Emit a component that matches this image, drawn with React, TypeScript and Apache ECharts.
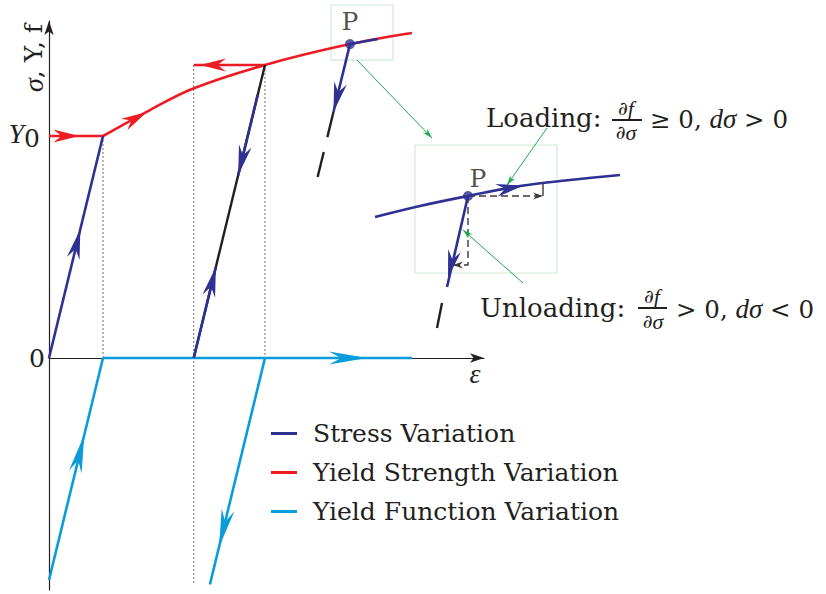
import { useEffect, useRef } from 'react';
import * as echarts from 'echarts';

const NAVY = '#2E3192';
const RED = '#ED1C24';
const CYAN = '#0A9BDB';
const INK = '#231F20';
const GREEN = '#1BA84F';
const PALE_GREEN = '#CFEAD6';
const GUIDE = '#6D6E71';
const FONT = 'DejaVu Serif';
const MATH = 'Liberation Serif';

// ---- main diagram: strain (x) vs stress / yield strength / yield function (y), Y0 = 1 ----
const stressLoading = [[0, 0], [1, 1]];
const stressUnloadTop = [[3.865, 1.185], [3.504, 0.824]];
const stressReloadLow = [[2.68, 0], [3.09, 0.41]];
const stressAtP = [[5.574, 1.414], [5.268, 1.108]];
const stressPastP = [[5.574, 1.414], [6.09, 1.437]];
const elasticUnload = [[4, 1.32], [2.68, 0]];
const trailA = [[5.268, 1.108], [5.155, 0.995]];
const trailB = [[5.088, 0.928], [4.975, 0.815]];
const pointP = [[5.574, 1.414]];

const yieldInitial = [[0, 1], [1, 1]];
const hardeningCurve = [[1, 1], [1.87, 1.117], [2.648, 1.212], [4, 1.32], [5.574, 1.414], [6.722, 1.464]];
const yieldHeld = [[4, 1.32], [2.68, 1.32]];

const yieldFnElastic = [[0, -1], [1, 0]];
const yieldFnPlastic = [[1, 0], [6.722, 0]];
const yieldFnUnload = [[4, 0], [2.98, -1.02]];

const guideA = [[1, 1], [1, 0]];
const guideB = [[2.68, 1.32], [2.68, -1.02]];
const guideC = [[4, 1.32], [4, 0]];

const boxP = [[5.222, 1.59], [6.37, 1.59], [6.37, 1.342], [5.222, 1.342], [5.222, 1.59]];
const pointerToInset = [[5.704, 1.342], [7.093, 0.991]];

// arrowheads: [tipX, tipY, tailX, tailY]
const redArrows = [[0.56, 1, 0.1, 1], [1.815, 1.108, 1.3, 1.04], [2.796, 1.32, 3.6, 1.32]];
const navyArrows = [[0.58, 0.58, 0.3, 0.3], [3.504, 0.824, 3.8, 1.12], [3.09, 0.41, 2.8, 0.12], [5.268, 1.108, 5.5, 1.34]];
const cyanArrows = [[5.89, 0, 4.5, 0], [0.653, -0.347, 0.3, -0.7], [3.149, -0.851, 3.7, -0.3]];
const pointerArrowMain = [[7.093, 0.991, 5.704, 1.342]];

const yTickValues = [0, 1];
const yTickLabels = ['0', '{it|Y}{sub|0}'];

// ---- magnified neighbourhood of P (P at origin) ----
const insetCurve = [[-9.3, -2.1], [-4.8, -1.0], [0, 0], [5.2, 1.0], [10.2, 1.6], [15.2, 2.1]];
const insetUnload = [[0, 0], [-2.1, -9.1]];
const insetTrail = [[-2.6, -10.7], [-3.1, -13.2]];
const insetDPlus = [[0, 0], [7.5, 0]];
const insetDPlusTick = [[7.5, 0], [7.5, 1.3]];
const insetDMinus = [[0, 0], [0, -6.9], [-1.5, -6.9]];
const insetBox = [[-5.3, 5.1], [8.9, 5.1], [8.9, -7.7], [-5.3, -7.7], [-5.3, 5.1]];
const loadingPointer = [[7.9, 6.8], [3.9, 1.1]];
const unloadingPointer = [[5.5, -8.7], [-0.5, -3.4]];
const insetP = [[0, 0]];

const insetNavyArrows = [[5.6, 1.05, 2.5, 0.5], [-2.0, -8.2, -1.0, -4.0]];
const insetInkArrows = [[7.5, 0, 6, 0], [-1.5, -6.9, 0, -6.9]];
const insetGreenArrows = [[3.9, 1.1, 7.9, 6.8], [-0.5, -3.4, 5.5, -8.7]];

const legendNames = ['Stress Variation', 'Yield Strength Variation', 'Yield Function Variation'];

function line(name: string, data: number[][], color: string, width: number, opts: any = {}) {
  const g = opts.grid ?? 0;
  return {
    type: 'line',
    name,
    data,
    symbol: 'none',
    silent: true,
    clip: false,
    color,
    itemStyle: { color },
    lineStyle: { color, width, type: opts.dash ?? 'solid' },
    smooth: opts.smooth ?? false,
    xAxisIndex: g,
    yAxisIndex: g,
    z: opts.z ?? 3,
    emphasis: { disabled: true },
  };
}

function arrows(data: number[][], color: string, length: number, halfWidth: number, grid = 0) {
  return {
    type: 'custom',
    data,
    silent: true,
    clip: false,
    xAxisIndex: grid,
    yAxisIndex: grid,
    z: 6,
    encode: { x: [0, 2], y: [1, 3] },
    renderItem: (_params: any, api: any) => {
      const tip = api.coord([api.value(0), api.value(1)]);
      const tail = api.coord([api.value(2), api.value(3)]);
      const a = Math.atan2(tip[1] - tail[1], tip[0] - tail[0]);
      const c = Math.cos(a);
      const s = Math.sin(a);
      const pt = (u: number, v: number) => [tip[0] + u * c - v * s, tip[1] + u * s + v * c];
      return {
        type: 'polygon',
        shape: { points: [pt(0, 0), pt(-length, halfWidth), pt(-length * 0.68, 0), pt(-length, -halfWidth)] },
        style: { fill: color },
      };
    },
  };
}

const textBase = { fontFamily: FONT, fontSize: 25, fill: INK };
const italic = (size: number) => ({ fontFamily: MATH, fontSize: size, fontStyle: 'italic', fill: INK });

function fracPart(x: number, y: number, text: string) {
  return {
    type: 'text', x, y,
    style: { ...textBase, fontSize: 19, lineHeight: 16, text, align: 'center', verticalAlign: 'middle', rich: { i: { ...italic(22), lineHeight: 16 } } },
  };
}

export default function App() {
  const ref = useRef<HTMLDivElement>(null);

  useEffect(() => {
    if (!ref.current) return;
    const chart = echarts.init(ref.current, null, { renderer: 'svg' });

    const axisLine = { lineStyle: { color: INK, width: 1.2 } };

    chart.setOption({
      animation: false,
      backgroundColor: '#ffffff',
      grid: [
        { left: 49, top: 21, width: 435, height: 569 },
        { left: 360, top: 100, width: 300, height: 240 },
      ],
      xAxis: [
        {
          type: 'value', gridIndex: 0, min: 0, max: 8.056,
          axisLine: { show: true, onZero: true, symbol: ['none', 'arrow'], symbolSize: [7, 14], ...axisLine },
          axisTick: { show: false }, axisLabel: { show: false }, splitLine: { show: false },
        },
        { type: 'value', gridIndex: 1, min: -10.8, max: 19.2, show: false },
      ],
      yAxis: [
        {
          type: 'value', gridIndex: 0, min: -1.045, max: 1.518,
          axisLine: { show: true, onZero: true, symbol: ['none', 'arrow'], symbolSize: [7, 14], ...axisLine },
          axisTick: { show: false },
          splitLine: { show: false },
          axisLabel: {
            show: true,
            customValues: yTickValues,
            margin: 4,
            fontFamily: FONT,
            fontSize: 25,
            color: INK,
            formatter: (v: number) => yTickLabels[yTickValues.indexOf(v)] ?? '',
            rich: {
              it: { fontFamily: MATH, fontSize: 28, fontStyle: 'italic', color: INK, padding: [0, 0, 5, 0] },
              sub: { fontFamily: FONT, fontSize: 25, color: INK, padding: [5, 5, 0, 0] },
            },
          },
        },
        { type: 'value', gridIndex: 1, min: -14.4, max: 9.6, show: false },
      ],
      legend: {
        data: legendNames,
        orient: 'vertical',
        left: 266,
        top: 416,
        itemWidth: 26,
        itemHeight: 3,
        itemGap: 14,
        icon: 'rect',
        selectedMode: false,
        textStyle: { fontFamily: FONT, fontSize: 25, color: INK, lineHeight: 25, padding: [0, 0, 0, 11] },
      },
      series: [
        // guides
        line('guide', guideA, GUIDE, 1, { dash: [2, 2], z: 1 }),
        line('guide', guideB, GUIDE, 1, { dash: [2, 2], z: 1 }),
        line('guide', guideC, GUIDE, 1, { dash: [2, 2], z: 1 }),
        // yield strength
        line('Yield Strength Variation', yieldInitial, RED, 2.6),
        line('Yield Strength Variation', hardeningCurve, RED, 2.6, { smooth: 0.35 }),
        line('Yield Strength Variation', yieldHeld, RED, 2.6),
        // elastic line (black) and stress path
        line('elastic', elasticUnload, INK, 2.4, { z: 3 }),
        line('elastic', trailA, INK, 2.4),
        line('elastic', trailB, INK, 2.4),
        line('Stress Variation', stressLoading, NAVY, 2.6, { z: 4 }),
        line('Stress Variation', stressUnloadTop, NAVY, 2.6, { z: 4 }),
        line('Stress Variation', stressReloadLow, NAVY, 2.6, { z: 4 }),
        line('Stress Variation', stressAtP, NAVY, 2.6, { z: 4 }),
        line('Stress Variation', stressPastP, NAVY, 2.6, { z: 4 }),
        // yield function
        line('Yield Function Variation', yieldFnElastic, CYAN, 2.6),
        line('Yield Function Variation', yieldFnPlastic, CYAN, 2.6),
        line('Yield Function Variation', yieldFnUnload, CYAN, 2.6),
        // callout
        line('callout', boxP, PALE_GREEN, 1.2, { z: 1 }),
        line('callout', pointerToInset, GREEN, 1, { z: 2 }),
        arrows(redArrows, RED, 26, 6.5),
        arrows(navyArrows, NAVY, 30, 6.5),
        arrows(cyanArrows, CYAN, 38, 6.5),
        arrows(pointerArrowMain, GREEN, 10, 3),
        {
          type: 'scatter', data: pointP, symbolSize: 10, itemStyle: { color: NAVY }, z: 7, silent: true,
          label: { show: true, formatter: 'P', position: 'top', distance: 5, fontFamily: FONT, fontSize: 25, color: INK },
        },
        // magnified neighbourhood of P
        line('callout', insetBox, PALE_GREEN, 1.2, { grid: 1, z: 1 }),
        line('inset', insetCurve, NAVY, 2.6, { grid: 1, smooth: 0.35 }),
        line('inset', insetUnload, NAVY, 2.6, { grid: 1 }),
        line('inset', insetTrail, INK, 2.4, { grid: 1 }),
        line('inset', insetDPlus, '#3A3A3A', 1.4, { grid: 1, dash: [7, 4] }),
        line('inset', insetDPlusTick, '#3A3A3A', 1.4, { grid: 1 }),
        line('inset', insetDMinus, '#3A3A3A', 1.4, { grid: 1, dash: [7, 4] }),
        line('callout', loadingPointer, GREEN, 1, { grid: 1 }),
        line('callout', unloadingPointer, GREEN, 1, { grid: 1 }),
        arrows(insetNavyArrows, NAVY, 28, 6.5, 1),
        arrows(insetInkArrows, '#3A3A3A', 10, 3.5, 1),
        arrows(insetGreenArrows, GREEN, 10, 3, 1),
        {
          type: 'scatter', data: insetP, xAxisIndex: 1, yAxisIndex: 1, symbolSize: 10, itemStyle: { color: NAVY }, z: 7, silent: true,
          label: { show: true, formatter: 'P', position: 'top', distance: 2, offset: [10, 2], fontFamily: FONT, fontSize: 25, color: INK },
        },
      ],
      graphic: [
        {
          type: 'text', x: 33, y: 58, rotation: Math.PI / 2,
          style: { ...textBase, text: '{i|σ}, Y, f', align: 'center', verticalAlign: 'middle', rich: { i: italic(28) } },
        },
        { type: 'text', x: 475, y: 373, style: { ...italic(28), text: 'ε', align: 'center', verticalAlign: 'middle' } },
        // loading condition
        { type: 'text', x: 486, y: 118, style: { ...textBase, fontSize: 26, text: 'Loading:', verticalAlign: 'middle' } },
        fracPart(626, 108, '∂{i|f}'),
        { type: 'line', shape: { x1: 612, y1: 120, x2: 642, y2: 120 }, style: { stroke: INK, lineWidth: 2 } },
        fracPart(626, 132, '∂{i|σ}'),
        { type: 'text', x: 650, y: 119, style: { ...textBase, fontSize: 24.5, text: '≥ 0, {i|dσ} > 0', verticalAlign: 'middle', rich: { i: italic(27) } } },
        // unloading condition
        { type: 'text', x: 480, y: 308, style: { ...textBase, fontSize: 26, text: 'Unloading:', verticalAlign: 'middle' } },
        fracPart(652, 296, '∂{i|f}'),
        { type: 'line', shape: { x1: 638, y1: 308, x2: 667, y2: 308 }, style: { stroke: INK, lineWidth: 2 } },
        fracPart(653, 321, '∂{i|σ}'),
        { type: 'text', x: 676, y: 309, style: { ...textBase, fontSize: 24.5, text: '> 0, {i|dσ} < 0', verticalAlign: 'middle', rich: { i: italic(27) } } },
      ],
    });

    return () => chart.dispose();
  }, []);

  return <div ref={ref} style={{ position: 'fixed', left: 0, top: 0, width: 826, height: 594, background: '#fff' }} />;
}
